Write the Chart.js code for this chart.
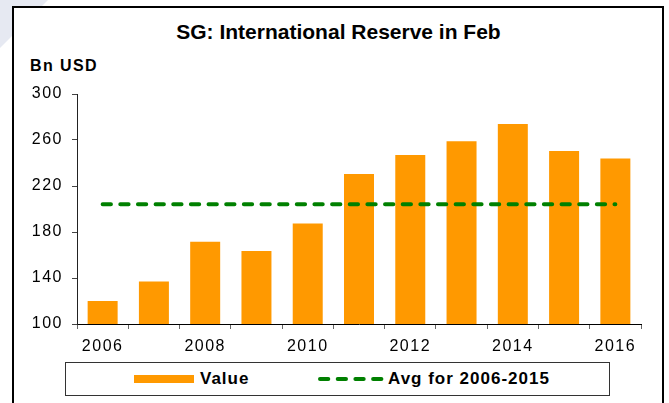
<!DOCTYPE html>
<html>
<head>
<meta charset="utf-8">
<script src="https://cdn.jsdelivr.net/npm/chart.js@4/dist/chart.umd.min.js"></script>
<style>
  body { margin: 0; background: #fff; }
  #wrap { position: relative; width: 669px; height: 403px; overflow: hidden; font-family: "Liberation Sans", Arial, sans-serif; color: #000; }
  .mark { position: absolute; left: 0; top: 0; width: 48px; height: 48px; background: #e6e9f2; clip-path: polygon(0 0, 100% 0, 0 100%); }
  .frame { position: absolute; left: 12px; top: 6px; width: 648px; height: 440px; border: 2px solid #000; background: #fff; }
  .title { position: absolute; left: 14px; width: 649px; top: 21px; text-align: center; font-weight: bold; font-size: 21px; line-height: 21px; }
  .unit { position: absolute; left: 30px; top: 58px; font-weight: bold; font-size: 16px; line-height: 16px; letter-spacing: 1.4px; }
  .box { position: absolute; left: 65px; top: 362px; width: 543px; height: 32px; border: 1px solid #333; }
  .swatch { position: absolute; left: 134px; top: 375px; width: 60px; height: 8px; background: #ff9900; }
  .ltext { position: absolute; top: 370px; font-weight: bold; font-size: 17px; line-height: 17px; letter-spacing: 1px; }
  .dash { position: absolute; left: 318px; top: 375px; }
  #plot { position: absolute; left: 14px; top: 80px; width: 640px; height: 280px; }
</style>
</head>
<body>
<div id="wrap">
  <div class="mark"></div>
  <div class="frame"></div>
  <div class="title">SG: International Reserve in Feb</div>
  <div class="unit">Bn USD</div>
  <div id="plot"><canvas id="chart"></canvas></div>
  <div class="box"></div>
  <div class="swatch"></div>
  <div class="ltext" style="left:200px">Value</div>
  <svg class="dash" width="66" height="8"><line x1="2" y1="4" x2="64" y2="4" stroke="#008000" stroke-width="4" stroke-linecap="round" stroke-dasharray="8.3 9.4"/></svg>
  <div class="ltext" style="left:388px">Avg for 2006-2015</div>
</div>
<script>
const years = ["2006", "2007", "2008", "2009", "2010", "2011", "2012", "2013", "2014", "2015", "2016"];
const reserveValues = [120, 137, 171.5, 163.5, 187.5, 230.5, 247, 259, 274, 250.5, 244];
const avgValues = [204.1, 204.1, 204.1, 204.1, 204.1, 204.1, 204.1, 204.1, 204.1, 204.1, 204.1];
const xTickLabels = ["2006", "2008", "2010", "2012", "2014", "2016"];
const yTickValues = [100, 140, 180, 220, 260, 300];

// wider tick text, like the original
const spacing = {
  id: "spacing",
  beforeUpdate(chart) { chart.ctx.letterSpacing = "1.5px"; },
  beforeDraw(chart) { chart.ctx.letterSpacing = "1.5px"; },
};

new Chart(document.getElementById("chart"), {
  data: {
    labels: years,
    datasets: [
      {
        type: "line",
        label: "Avg for 2006-2015",
        data: avgValues,
        borderColor: "#008000",
        borderWidth: 4,
        borderDash: [8.3, 9.35],
        borderCapStyle: "round",
        pointRadius: 0,
        fill: false,
      },
      {
        type: "bar",
        label: "Value",
        data: reserveValues,
        backgroundColor: "#ff9900",
        barPercentage: 0.585,
        categoryPercentage: 1,
      },
    ],
  },
  options: {
    responsive: true,
    maintainAspectRatio: false,
    animation: false,
    layout: { padding: { top: 14, right: 13, left: 0, bottom: 0 } },
    plugins: { legend: { display: false }, tooltip: { enabled: false } },
    scales: {
      x: {
        type: "category",
        offset: true,
        grid: { offset: true, drawOnChartArea: false, tickLength: 5, color: "#666" },
        border: { color: "#000", width: 1 },
        ticks: {
          autoSkip: false,
          maxRotation: 0,
          padding: 8,
          color: "#000",
          font: { family: "Liberation Sans", size: 16 },
          callback: (v, i) => (xTickLabels.includes(years[i]) ? years[i] : ""),
        },
        afterFit: (scale) => { scale.height = 36; scale.paddingLeft = 0; scale.paddingRight = 0; },
      },
      y: {
        min: 100,
        max: 300,
        grid: { drawOnChartArea: false, tickLength: 5, color: "#444" },
        border: { color: "#222", width: 1 },
        ticks: {
          padding: 9,
          color: "#000",
          font: { family: "Liberation Sans", size: 16 },
        },
        afterBuildTicks: (scale) => { scale.ticks = yTickValues.map((v) => ({ value: v })); },
        afterFit: (scale) => { scale.width = 63; scale.paddingTop = 0; scale.paddingBottom = 0; },
      },
    },
  },
  plugins: [spacing],
});
</script>
</body>
</html>
